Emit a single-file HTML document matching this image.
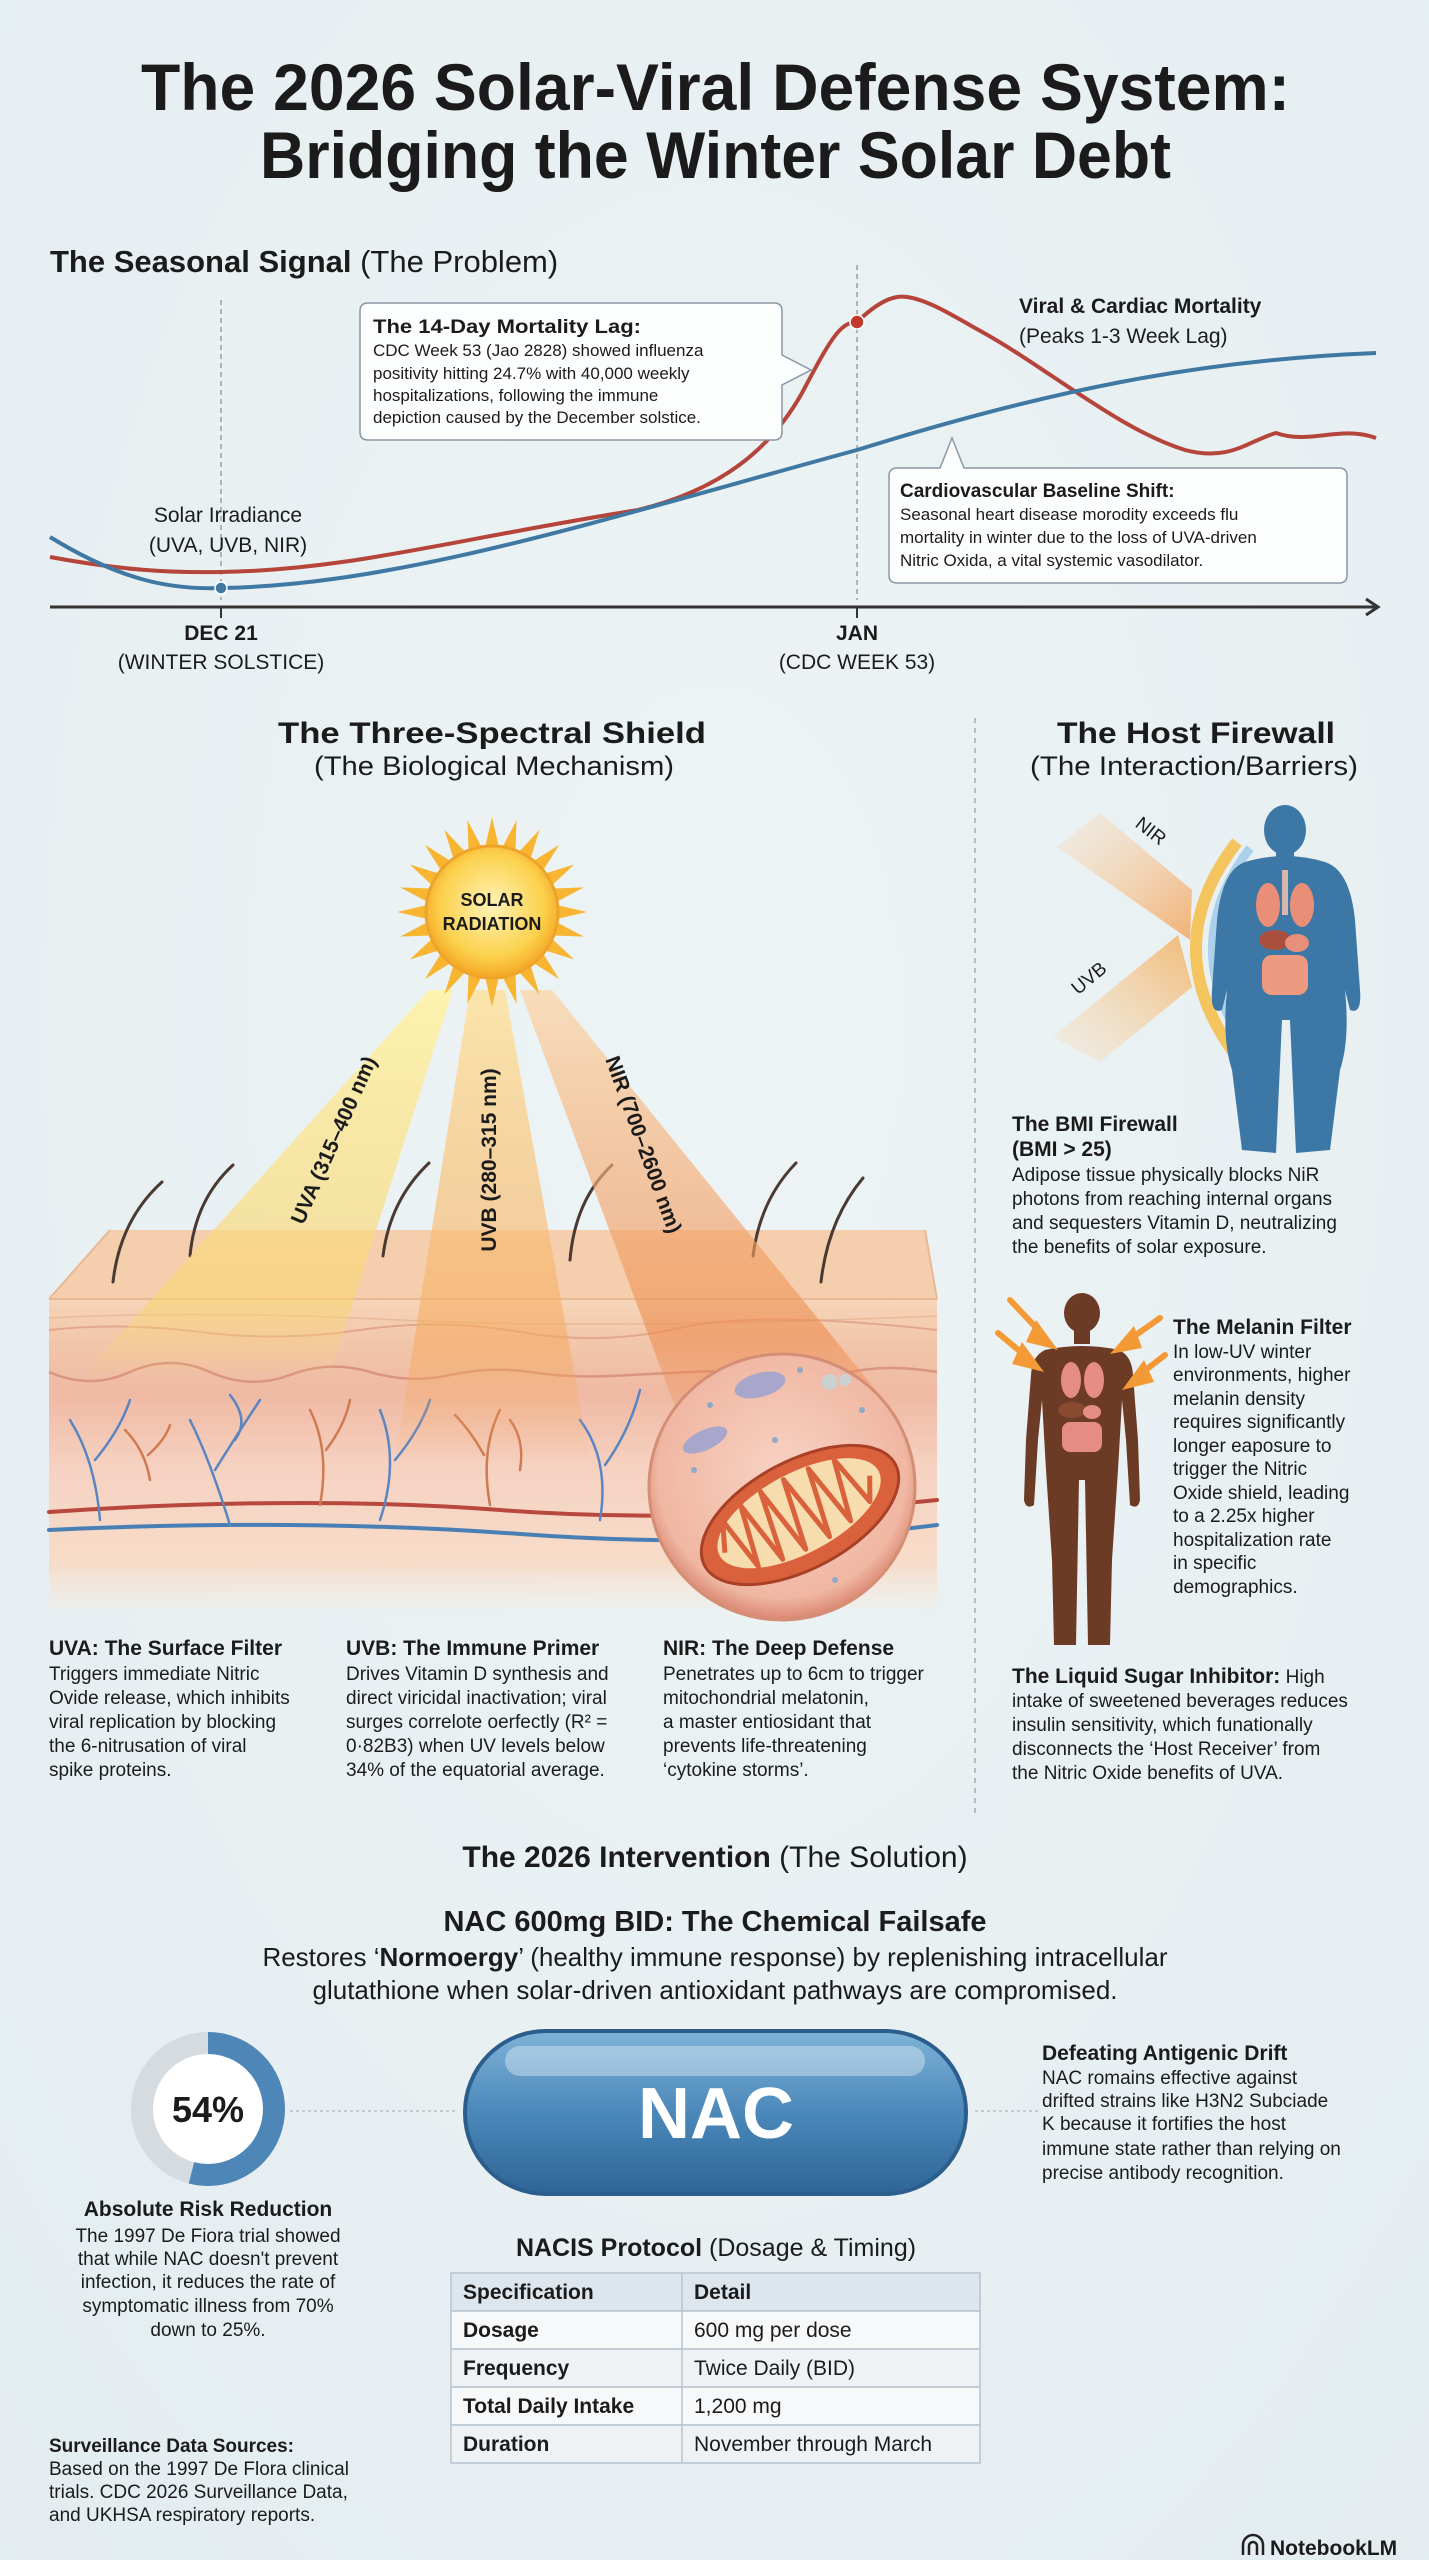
<!DOCTYPE html>
<html><head><meta charset="utf-8"><style>
html,body{margin:0;padding:0;background:#e9f1f3}
svg{display:block}
text{font-family:"Liberation Sans",sans-serif;fill:#1b1b1b}
</style></head><body>
<svg width="1429" height="2560" viewBox="0 0 1429 2560" xmlns="http://www.w3.org/2000/svg">
<defs>
<radialGradient id="bg" cx="50%" cy="40%" r="80%"><stop offset="0" stop-color="#eef4f5"/><stop offset="1" stop-color="#e3ecf0"/></radialGradient>
<radialGradient id="sun" cx="50%" cy="45%" r="55%"><stop offset="0" stop-color="#fff3b8"/><stop offset="0.7" stop-color="#fcd24e"/><stop offset="1" stop-color="#f4a623"/></radialGradient>
<linearGradient id="bY" x1="0" y1="0" x2="0" y2="1"><stop offset="0" stop-color="#fff2a8" stop-opacity=".9"/><stop offset=".8" stop-color="#f8d470" stop-opacity=".6"/><stop offset="1" stop-color="#f8d470" stop-opacity="0"/></linearGradient>
<linearGradient id="bO" x1="0" y1="0" x2="0" y2="1"><stop offset="0" stop-color="#fde3a0" stop-opacity=".85"/><stop offset=".75" stop-color="#f5a85a" stop-opacity=".55"/><stop offset="1" stop-color="#f5a85a" stop-opacity="0"/></linearGradient>
<linearGradient id="bR" x1="0" y1="0" x2="0" y2="1"><stop offset="0" stop-color="#fbd6a8" stop-opacity=".75"/><stop offset=".8" stop-color="#ee8a4c" stop-opacity=".6"/><stop offset="1" stop-color="#ee8a4c" stop-opacity=".2"/></linearGradient>
<linearGradient id="skin" x1="0" y1="0" x2="0" y2="1"><stop offset="0" stop-color="#f6d5b8"/><stop offset=".12" stop-color="#f3c8ac"/><stop offset=".3" stop-color="#efb9a3"/><stop offset=".55" stop-color="#f6d2c2"/><stop offset=".85" stop-color="#f7dcc8"/><stop offset="1" stop-color="#f3ebe2" stop-opacity=".4"/></linearGradient>
<linearGradient id="pill" x1="0" y1="0" x2="0" y2="1"><stop offset="0" stop-color="#7fb3d8"/><stop offset=".5" stop-color="#4b88ba"/><stop offset="1" stop-color="#2e6596"/></linearGradient>
<radialGradient id="mito" cx="50%" cy="45%" r="55%"><stop offset="0" stop-color="#f8d2c3"/><stop offset=".85" stop-color="#f0b7a3"/><stop offset="1" stop-color="#d98670"/></radialGradient>
<linearGradient id="nirB" x1="0" y1="0" x2="1" y2="1"><stop offset="0" stop-color="#fbd9b0" stop-opacity=".2"/><stop offset="1" stop-color="#f4a55e" stop-opacity=".85"/></linearGradient>
<linearGradient id="uvbB" x1="0" y1="1" x2="1" y2="0"><stop offset="0" stop-color="#fbd9b0" stop-opacity=".2"/><stop offset="1" stop-color="#f2b060" stop-opacity=".85"/></linearGradient>
</defs>
<rect width="1429" height="2560" fill="url(#bg)"/>

<!-- TITLE -->
<text x="141" y="110" font-weight="bold" font-size="66" textLength="1149" lengthAdjust="spacingAndGlyphs">The 2026 Solar-Viral Defense System:</text>
<text x="260" y="178" font-weight="bold" font-size="66" textLength="911" lengthAdjust="spacingAndGlyphs">Bridging the Winter Solar Debt</text>

<!-- SEASONAL SIGNAL -->
<text x="50" y="272" font-size="31"><tspan font-weight="bold">The Seasonal Signal</tspan><tspan> (The Problem)</tspan></text>

<line x1="221" y1="300" x2="221" y2="600" stroke="#777" stroke-dasharray="5,4" stroke-width="1"/>
<line x1="857" y1="265" x2="857" y2="600" stroke="#777" stroke-dasharray="5,4" stroke-width="1"/>
<line x1="50" y1="607" x2="1376" y2="607" stroke="#333" stroke-width="3"/>
<path d="M1366,599 L1378,607 L1366,615" fill="none" stroke="#333" stroke-width="3"/>
<line x1="221" y1="607" x2="221" y2="618" stroke="#333" stroke-width="2"/>
<line x1="857" y1="607" x2="857" y2="618" stroke="#333" stroke-width="2"/>

<path d="M50,557 C120,570 170,573 221,572 C350,570 450,540 638,510 C720,490 770,450 802,393 C830,340 840,322 857,322 C880,300 895,295 907,297 C930,300 960,320 984,333 C1050,370 1120,430 1185,450 C1230,462 1250,440 1276,433 C1310,445 1340,425 1376,438" fill="none" stroke="#b5443a" stroke-width="4"/>
<path d="M50,537 C120,580 170,590 221,588 C400,585 600,520 857,450 C1050,390 1200,360 1376,353" fill="none" stroke="#3f78a3" stroke-width="4"/>
<circle cx="221" cy="588" r="6" fill="#3f78a3" stroke="#fff" stroke-width="1.5"/>
<circle cx="857" cy="322" r="7" fill="#c0392b" stroke="#fff" stroke-width="1.5"/>

<path d="M368,303 H774 Q782,303 782,311 V355 L811,370 L782,385 V432 Q782,440 774,440 H368 Q360,440 360,432 V311 Q360,303 368,303 Z" fill="#fcfdfd" stroke="#8c97a3" stroke-width="1.5"/>
<text x="373" y="333" font-size="19" font-weight="bold" textLength="268" lengthAdjust="spacingAndGlyphs">The 14-Day Mortality Lag:</text>
<text font-size="17"><tspan x="373" y="356">CDC Week 53 (Jao 2828) showed influenza</tspan><tspan x="373" y="379">positivity hitting 24.7% with 40,000 weekly</tspan><tspan x="373" y="401">hospitalizations, following the immune</tspan><tspan x="373" y="423">depiction caused by the December solstice.</tspan></text>

<path d="M897,468 H940 L952,438 L964,468 H1339 Q1347,468 1347,476 V575 Q1347,583 1339,583 H897 Q889,583 889,575 V476 Q889,468 897,468 Z" fill="#fcfdfd" stroke="#8c97a3" stroke-width="1.5"/>
<text x="900" y="497" font-size="19" font-weight="bold">Cardiovascular Baseline Shift:</text>
<text font-size="17"><tspan x="900" y="520">Seasonal heart disease morodity exceeds flu</tspan><tspan x="900" y="543">mortality in winter due to the loss of UVA-driven</tspan><tspan x="900" y="566">Nitric Oxida, a vital systemic vasodilator.</tspan></text>

<text x="1019" y="313" font-size="21" font-weight="bold">Viral &amp; Cardiac Mortality</text>
<text x="1019" y="343" font-size="21">(Peaks 1-3 Week Lag)</text>
<text x="228" y="522" font-size="21" text-anchor="middle">Solar Irradiance</text>
<text x="228" y="552" font-size="21" text-anchor="middle">(UVA, UVB, NIR)</text>
<text x="221" y="640" font-size="21" font-weight="bold" text-anchor="middle">DEC 21</text>
<text x="221" y="669" font-size="21" text-anchor="middle">(WINTER SOLSTICE)</text>
<text x="857" y="640" font-size="21" font-weight="bold" text-anchor="middle">JAN</text>
<text x="857" y="669" font-size="21" text-anchor="middle">(CDC WEEK 53)</text>

<!-- MIDDLE HEADINGS -->
<text x="278" y="743" font-size="30" font-weight="bold" textLength="428" lengthAdjust="spacingAndGlyphs">The Three-Spectral Shield</text>
<text x="314" y="775" font-size="27" textLength="360" lengthAdjust="spacingAndGlyphs">(The Biological Mechanism)</text>
<text x="1057" y="743" font-size="30" font-weight="bold" textLength="278" lengthAdjust="spacingAndGlyphs">The Host Firewall</text>
<text x="1030" y="775" font-size="27" textLength="328" lengthAdjust="spacingAndGlyphs">(The Interaction/Barriers)</text>
<line x1="975" y1="718" x2="975" y2="1813" stroke="#888" stroke-dasharray="5,5" stroke-width="1"/>

<!-- SKIN -->
<polygon points="110,1230 925,1230 937,1299 49,1299" fill="#f5cfad"/>
<rect x="49" y="1299" width="888" height="310" fill="url(#skin)"/>
<line x1="49" y1="1299" x2="937" y2="1299" stroke="#e8b896" stroke-width="2"/>
<line x1="49" y1="1299" x2="110" y2="1230" stroke="#e8b896" stroke-width="2"/>
<line x1="937" y1="1299" x2="925" y2="1230" stroke="#e8b896" stroke-width="2"/>
<path d="M49,1318 Q200,1310 400,1320 T937,1316" fill="none" stroke="#e7bb98" stroke-width="1.5"/>
<path d="M49,1330 Q120,1322 200,1332 T360,1330 T520,1332 T680,1328 T937,1330" fill="none" stroke="#e2a88e" stroke-width="2"/>
<path d="M49,1372 Q90,1390 130,1372 T210,1372 T290,1375 T370,1372 T450,1375 T530,1372 T610,1376 T690,1372 T770,1375 T850,1372 T937,1372" fill="none" stroke="#d99580" stroke-width="2.5"/>
<g fill="none" stroke-width="3" stroke-linecap="round">
<path d="M49,1512 Q300,1495 500,1510 T937,1500" stroke="#b8483d" stroke-width="4"/>
<path d="M49,1530 Q300,1518 520,1534 T937,1525" stroke="#4a7fb5" stroke-width="4"/>
<g stroke="#5a85c0" stroke-width="2.5">
<path d="M100,1520 Q95,1460 70,1420 M95,1460 Q120,1430 130,1400"/>
<path d="M230,1525 Q210,1460 190,1420 M215,1470 Q240,1430 260,1400 M235,1440 Q250,1420 230,1395"/>
<path d="M380,1520 Q400,1460 380,1410 M395,1460 Q420,1430 430,1400"/>
<path d="M600,1520 Q610,1460 580,1420 M605,1465 Q630,1430 640,1390"/>
</g>
<g stroke="#cf7a50" stroke-width="2.5">
<path d="M150,1480 Q145,1450 125,1430 M148,1455 Q165,1440 170,1425"/>
<path d="M320,1505 Q330,1450 310,1410 M326,1450 Q345,1425 350,1400"/>
<path d="M490,1505 Q480,1450 500,1410 M484,1455 Q470,1430 455,1415"/>
<path d="M520,1470 Q525,1440 510,1420"/>
</g>
<g stroke="#4b3a33" stroke-width="3">
<path d="M113,1282 Q120,1220 162,1182"/><path d="M190,1256 Q195,1200 233,1165"/>
<path d="M383,1256 Q390,1200 429,1163"/><path d="M570,1260 Q575,1200 612,1165"/>
<path d="M753,1256 Q760,1200 796,1163"/><path d="M821,1282 Q828,1220 863,1178"/>
</g>
</g>

<!-- BEAMS (over skin) -->
<polygon points="429,990 453,990 328,1380 79,1380" fill="url(#bY)"/>
<polygon points="470,990 505,990 590,1460 395,1460" fill="url(#bO)"/>
<polygon points="520,990 552,990 900,1420 680,1420" fill="url(#bR)"/>

<!-- mitochondrion -->
<circle cx="782" cy="1487" r="133" fill="url(#mito)" stroke="#d58e76" stroke-width="3"/>
<g transform="rotate(-28 800 1515)">
<ellipse cx="800" cy="1515" rx="108" ry="54" fill="#d9623c" stroke="#a84126" stroke-width="3"/>
<ellipse cx="800" cy="1513" rx="90" ry="40" fill="#f7dcae"/>
<path d="M716,1513 L729,1484 L739,1541 L752,1479 L764,1546 L776,1476 L789,1548 L802,1476 L816,1548 L829,1478 L842,1544 L856,1482 L868,1536 L880,1513" fill="none" stroke="#d9623c" stroke-width="5" stroke-linejoin="round"/>
</g>
<ellipse cx="760" cy="1385" rx="26" ry="12" fill="#a9a6cc" transform="rotate(-15 760 1385)"/>
<ellipse cx="705" cy="1440" rx="24" ry="10" fill="#a9a6cc" transform="rotate(-25 705 1440)"/>
<circle cx="830" cy="1382" r="8" fill="#c9d1d3"/><circle cx="845" cy="1380" r="6" fill="#c9d1d3"/>
<g fill="#8fa9c9"><circle cx="710" cy="1405" r="3"/><circle cx="800" cy="1370" r="3"/><circle cx="775" cy="1440" r="3"/><circle cx="862" cy="1410" r="3"/><circle cx="694" cy="1470" r="3"/><circle cx="835" cy="1580" r="3"/></g>

<!-- SUN -->
<g transform="translate(492,912)">
<g fill="#f7b531">
<polygon points="0,-95 8,-60 -8,-60"/><polygon points="0,-95 8,-60 -8,-60" transform="rotate(15)"/><polygon points="0,-95 8,-60 -8,-60" transform="rotate(30)"/><polygon points="0,-95 8,-60 -8,-60" transform="rotate(45)"/><polygon points="0,-95 8,-60 -8,-60" transform="rotate(60)"/><polygon points="0,-95 8,-60 -8,-60" transform="rotate(75)"/><polygon points="0,-95 8,-60 -8,-60" transform="rotate(90)"/><polygon points="0,-95 8,-60 -8,-60" transform="rotate(105)"/><polygon points="0,-95 8,-60 -8,-60" transform="rotate(120)"/><polygon points="0,-95 8,-60 -8,-60" transform="rotate(135)"/><polygon points="0,-95 8,-60 -8,-60" transform="rotate(150)"/><polygon points="0,-95 8,-60 -8,-60" transform="rotate(165)"/><polygon points="0,-95 8,-60 -8,-60" transform="rotate(180)"/><polygon points="0,-95 8,-60 -8,-60" transform="rotate(195)"/><polygon points="0,-95 8,-60 -8,-60" transform="rotate(210)"/><polygon points="0,-95 8,-60 -8,-60" transform="rotate(225)"/><polygon points="0,-95 8,-60 -8,-60" transform="rotate(240)"/><polygon points="0,-95 8,-60 -8,-60" transform="rotate(255)"/><polygon points="0,-95 8,-60 -8,-60" transform="rotate(270)"/><polygon points="0,-95 8,-60 -8,-60" transform="rotate(285)"/><polygon points="0,-95 8,-60 -8,-60" transform="rotate(300)"/><polygon points="0,-95 8,-60 -8,-60" transform="rotate(315)"/><polygon points="0,-95 8,-60 -8,-60" transform="rotate(330)"/><polygon points="0,-95 8,-60 -8,-60" transform="rotate(345)"/>
</g>
<circle r="66" fill="url(#sun)" stroke="#eea42a" stroke-width="3"/>
<text y="-6" font-size="18" font-weight="bold" text-anchor="middle">SOLAR</text>
<text y="18" font-size="18" font-weight="bold" text-anchor="middle">RADIATION</text>
</g>
<text transform="translate(340,1143) rotate(-66)" font-size="21" font-weight="bold" text-anchor="middle">UVA (315–400 nm)</text>
<text transform="translate(496,1160) rotate(-90)" font-size="21" font-weight="bold" text-anchor="middle">UVB (280–315 nm)</text>
<text transform="translate(637,1147) rotate(70)" font-size="21" font-weight="bold" text-anchor="middle">NIR (700–2600 nm)</text>

<!-- captions -->
<g font-size="19">
<text x="49" y="1655" font-weight="bold" font-size="21">UVA: The Surface Filter</text>
<text><tspan x="49" y="1680">Triggers immediate Nitric</tspan><tspan x="49" y="1704">Ovide release, which inhibits</tspan><tspan x="49" y="1728">viral replication by blocking</tspan><tspan x="49" y="1752">the 6-nitrusation of viral</tspan><tspan x="49" y="1776">spike proteins.</tspan></text>
<text x="346" y="1655" font-weight="bold" font-size="21">UVB: The Immune Primer</text>
<text><tspan x="346" y="1680">Drives Vitamin D synthesis and</tspan><tspan x="346" y="1704">direct viricidal inactivation; viral</tspan><tspan x="346" y="1728">surges correlote oerfectly (R² =</tspan><tspan x="346" y="1752">0·82B3) when UV levels below</tspan><tspan x="346" y="1776">34% of the equatorial average.</tspan></text>
<text x="663" y="1655" font-weight="bold" font-size="21">NIR: The Deep Defense</text>
<text><tspan x="663" y="1680">Penetrates up to 6cm to trigger</tspan><tspan x="663" y="1704">mitochondrial melatonin,</tspan><tspan x="663" y="1728">a master entiosidant that</tspan><tspan x="663" y="1752">prevents life-threatening</tspan><tspan x="663" y="1776">‘cytokine storms’.</tspan></text>
</g>

<!-- HOST FIREWALL -->
<polygon points="1057,847 1100,813 1192,890 1190,940" fill="url(#nirB)"/>
<polygon points="1053,1037 1100,1062 1192,987 1178,935" fill="url(#uvbB)"/>
<path d="M1237,842 Q1155,948 1237,1057" fill="none" stroke="#f6b93a" stroke-width="12" opacity=".8"/>
<path d="M1250,848 Q1175,948 1250,1052" fill="none" stroke="#9ccbe8" stroke-width="9" opacity=".8"/>
<text transform="translate(1147,836) rotate(38)" font-size="19" text-anchor="middle">NIR</text>
<text transform="translate(1093,983) rotate(-40)" font-size="19" text-anchor="middle">UVB</text>
<g fill="#3d77a6">
<ellipse cx="1285" cy="830" rx="21" ry="25"/>
<rect x="1276" y="850" width="18" height="16"/>
<path d="M1245,862 Q1285,850 1325,862 Q1350,870 1355,920 L1360,990 Q1362,1015 1350,1010 L1345,990 Q1350,1040 1340,1070 L1330,1150 L1296,1153 L1290,1020 L1282,1020 L1276,1153 L1242,1150 L1232,1070 Q1222,1040 1227,990 L1222,1010 Q1210,1015 1212,990 L1217,920 Q1222,870 1245,862 Z"/>
</g>
<g>
<ellipse cx="1268" cy="905" rx="12" ry="22" fill="#e98e77"/><ellipse cx="1302" cy="905" rx="12" ry="22" fill="#e98e77"/>
<rect x="1282" y="870" width="6" height="45" fill="#d7b8b0"/>
<ellipse cx="1275" cy="940" rx="16" ry="10" fill="#a84f3d"/><ellipse cx="1297" cy="943" rx="12" ry="9" fill="#e9907a"/>
<rect x="1262" y="955" width="46" height="40" rx="10" fill="#ee9a80"/>
</g>
<g font-size="19">
<text x="1012" y="1131" font-weight="bold" font-size="21">The BMI Firewall</text>
<text x="1012" y="1156" font-weight="bold" font-size="21">(BMI &gt; 25)</text>
<text><tspan x="1012" y="1181">Adipose tissue physically blocks NiR</tspan><tspan x="1012" y="1205">photons from reaching internal organs</tspan><tspan x="1012" y="1229">and sequesters Vitamin D, neutralizing</tspan><tspan x="1012" y="1253">the benefits of solar exposure.</tspan></text>
</g>
<!-- brown figure -->
<g fill="#6b3b26">
<ellipse cx="1082" cy="1313" rx="18" ry="20"/>
<rect x="1074" y="1328" width="16" height="16"/>
<path d="M1045,1350 Q1082,1342 1119,1350 Q1132,1356 1133,1375 L1138,1440 L1140,1500 Q1138,1510 1130,1505 L1126,1440 L1122,1400 L1118,1470 L1112,1560 L1110,1645 L1088,1645 L1085,1480 L1079,1480 L1076,1645 L1054,1645 L1052,1560 L1046,1470 L1042,1400 L1038,1440 L1034,1505 Q1026,1510 1024,1500 L1026,1440 L1031,1375 Q1032,1356 1045,1350 Z"/>
</g>
<g>
<ellipse cx="1071" cy="1380" rx="10" ry="18" fill="#e58c85"/><ellipse cx="1094" cy="1380" rx="10" ry="18" fill="#e58c85"/>
<ellipse cx="1072" cy="1410" rx="14" ry="8" fill="#8a4a32"/><ellipse cx="1092" cy="1412" rx="9" ry="7" fill="#e58c85"/>
<rect x="1062" y="1422" width="40" height="30" rx="8" fill="#e58c85"/>
</g>
<g stroke="#f39a36" stroke-width="6" stroke-linecap="round" fill="#f39a36">
<line x1="1010" y1="1300" x2="1044" y2="1336"/><polygon points="1036,1320 1058,1350 1026,1342" stroke="none"/>
<line x1="998" y1="1333" x2="1028" y2="1358"/><polygon points="1022,1342 1044,1372 1012,1364" stroke="none"/>
<line x1="1160" y1="1318" x2="1126" y2="1342"/><polygon points="1134,1326 1110,1354 1142,1348" stroke="none"/>
<line x1="1165" y1="1355" x2="1138" y2="1376"/><polygon points="1144,1360 1122,1390 1154,1382" stroke="none"/>
</g>
<g font-size="19">
<text x="1173" y="1334" font-weight="bold" font-size="21">The Melanin Filter</text>
<text><tspan x="1173" y="1358">In low-UV winter</tspan><tspan x="1173" y="1381">environments, higher</tspan><tspan x="1173" y="1405">melanin density</tspan><tspan x="1173" y="1428">requires significantly</tspan><tspan x="1173" y="1452">longer eaposure to</tspan><tspan x="1173" y="1475">trigger the Nitric</tspan><tspan x="1173" y="1499">Oxide shield, leading</tspan><tspan x="1173" y="1522">to a 2.25x higher</tspan><tspan x="1173" y="1546">hospitalization rate</tspan><tspan x="1173" y="1569">in specific</tspan><tspan x="1173" y="1593">demographics.</tspan></text>
<text x="1012" y="1683"><tspan font-weight="bold" font-size="21">The Liquid Sugar Inhibitor:</tspan> High</text>
<text><tspan x="1012" y="1707">intake of sweetened beverages reduces</tspan><tspan x="1012" y="1731">insulin sensitivity, which funationally</tspan><tspan x="1012" y="1755">disconnects the ‘Host Receiver’ from</tspan><tspan x="1012" y="1779">the Nitric Oxide benefits of UVA.</tspan></text>
</g>

<!-- INTERVENTION -->
<text x="715" y="1867" font-size="30" text-anchor="middle"><tspan font-weight="bold">The 2026 Intervention</tspan> (The Solution)</text>
<text x="715" y="1931" font-size="29" font-weight="bold" text-anchor="middle">NAC 600mg BID: The Chemical Failsafe</text>
<text x="715" y="1966" font-size="26" text-anchor="middle">Restores ‘<tspan font-weight="bold">Normoergy</tspan>’ (healthy immune response) by replenishing intracellular</text>
<text x="715" y="1999" font-size="26" text-anchor="middle">glutathione when solar-driven antioxidant pathways are compromised.</text>

<circle cx="208" cy="2109" r="66" fill="#fff" stroke="#d6dbe0" stroke-width="22"/>
<circle cx="208" cy="2109" r="66" fill="none" stroke="#4f86b8" stroke-width="22" stroke-dasharray="224 415" transform="rotate(-90 208 2109)"/>
<text x="208" y="2122" font-size="36" font-weight="bold" text-anchor="middle">54%</text>
<line x1="290" y1="2111" x2="455" y2="2111" stroke="#9aa" stroke-dasharray="3,3"/>
<line x1="975" y1="2111" x2="1040" y2="2111" stroke="#9aa" stroke-dasharray="3,3"/>

<rect x="465" y="2031" width="501" height="163" rx="81" fill="url(#pill)" stroke="#2b5e8c" stroke-width="4"/>
<rect x="505" y="2046" width="420" height="30" rx="15" fill="#fff" opacity=".35"/>
<text x="716" y="2138" font-size="72" font-weight="bold" text-anchor="middle" style="fill:#fff">NAC</text>

<g font-size="19">
<text x="208" y="2216" font-weight="bold" font-size="21" text-anchor="middle">Absolute Risk Reduction</text>
<text text-anchor="middle"><tspan x="208" y="2242">The 1997 De Fiora trial showed</tspan><tspan x="208" y="2265">that while NAC doesn't prevent</tspan><tspan x="208" y="2288">infection, it reduces the rate of</tspan><tspan x="208" y="2312">symptomatic illness from 70%</tspan><tspan x="208" y="2336">down to 25%.</tspan></text>
<text x="1042" y="2060" font-weight="bold" font-size="21">Defeating Antigenic Drift</text>
<text><tspan x="1042" y="2084">NAC romains effective against</tspan><tspan x="1042" y="2107">drifted strains like H3N2 Subciade</tspan><tspan x="1042" y="2130">K because it fortifies the host</tspan><tspan x="1042" y="2155">immune state rather than relying on</tspan><tspan x="1042" y="2179">precise antibody recognition.</tspan></text>
<text x="49" y="2452" font-weight="bold">Surveillance Data Sources:</text>
<text><tspan x="49" y="2475">Based on the 1997 De Flora clinical</tspan><tspan x="49" y="2498">trials. CDC 2026 Surveillance Data,</tspan><tspan x="49" y="2521">and UKHSA respiratory reports.</tspan></text>
</g>

<text x="716" y="2256" font-size="25" text-anchor="middle"><tspan font-weight="bold">NACIS Protocol</tspan> (Dosage &amp; Timing)</text>
<g stroke="#b7c3cf" stroke-width="1.5">
<rect x="451" y="2273" width="529" height="38" fill="#dde5ed"/>
<rect x="451" y="2311" width="529" height="38" fill="#f6f8fa"/>
<rect x="451" y="2349" width="529" height="38" fill="#eef2f5"/>
<rect x="451" y="2387" width="529" height="38" fill="#f6f8fa"/>
<rect x="451" y="2425" width="529" height="38" fill="#eef2f5"/>
<line x1="682" y1="2273" x2="682" y2="2463"/>
</g>
<g font-size="21">
<text x="463" y="2299" font-weight="bold">Specification</text><text x="694" y="2299" font-weight="bold">Detail</text>
<text x="463" y="2337" font-weight="bold">Dosage</text><text x="694" y="2337">600 mg per dose</text>
<text x="463" y="2375" font-weight="bold">Frequency</text><text x="694" y="2375">Twice Daily (BID)</text>
<text x="463" y="2413" font-weight="bold">Total Daily Intake</text><text x="694" y="2413">1,200 mg</text>
<text x="463" y="2451" font-weight="bold">Duration</text><text x="694" y="2451">November through March</text>
</g>

<path d="M1243,2555 V2545 A10,10 0 0 1 1263,2545 V2555 M1249,2555 V2546 A4,4 0 0 1 1257,2546 V2555" fill="none" stroke="#222" stroke-width="2.5"/>
<text x="1270" y="2555" font-size="21" font-weight="bold">NotebookLM</text>
</svg>
</body></html>
